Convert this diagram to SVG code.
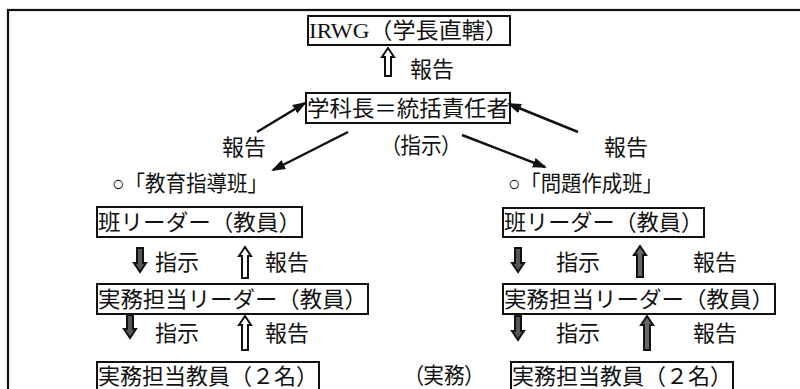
<svg xmlns="http://www.w3.org/2000/svg" width="800" height="389" viewBox="0 0 800 389">
<style>
.t{font-family:"Liberation Serif","Noto Sans CJK JP",serif;font-size:22px;fill:#111}
.p{font-feature-settings:"palt"}
.box{fill:#fff;stroke:#111;stroke-width:2}
.frame{fill:none;stroke:#111;stroke-width:2.2}
.ln{stroke:#111;stroke-width:2.5;fill:none;marker-end:url(#ah)}
.ba{stroke:#111;stroke-width:2;stroke-linejoin:miter}
.up{fill:#fff}
.dn{fill:#555}
.dk{fill:#666}
</style>
<defs>
<marker id="ah" viewBox="0 0 14 10" refX="12" refY="5" markerWidth="14" markerHeight="10" markerUnits="userSpaceOnUse" orient="auto">
<path d="M0,0 L14,5 L0,10 Z" fill="#111"/>
</marker>
</defs>
<rect class="frame" x="8" y="10" width="900" height="500"/>

<g id="irwg">
<rect class="box" x="308" y="16" width="202" height="29"/>
<text class="t" x="309" y="38" textLength="199" lengthAdjust="spacingAndGlyphs">IRWG（学長直轄）</text>
</g>
<g id="head">
<rect class="box" x="306" y="93" width="204" height="30"/>
<text class="t" x="307" y="116" textLength="202" lengthAdjust="spacingAndGlyphs">学科長＝統括責任者</text>
</g>

<g id="connectors">
<path class="ba up" d="M388,48 L394,57 L391,57 L391,76 L385,76 L385,57 L382,57 Z"/>
<line class="ln" x1="257" y1="132" x2="305" y2="103"/>
<line class="ln" x1="348" y1="132" x2="273" y2="170"/>
<line class="ln" x1="578" y1="132" x2="509" y2="104"/>
<line class="ln" x1="462" y1="135" x2="545" y2="167"/>
<path class="ba dn" d="M140,272 L146,263 L143,263 L143,248 L137,248 L137,263 L134,263 Z"/>
<path class="ba up" d="M245,247 L251,256 L248,256 L248,278 L242,278 L242,256 L239,256 Z"/>
<path class="ba dn" d="M130,338 L136,329 L133,329 L133,315 L127,315 L127,329 L124,329 Z"/>
<path class="ba up" d="M245,316 L251,325 L248,325 L248,350 L242,350 L242,325 L239,325 Z"/>
<path class="ba dn" d="M518,272 L524,263 L521,263 L521,248 L515,248 L515,263 L512,263 Z"/>
<path class="ba dk" d="M640,246 L646,255 L643,255 L643,277 L637,277 L637,255 L634,255 Z"/>
<path class="ba dn" d="M518,340 L524,331 L521,331 L521,316 L515,316 L515,331 L512,331 Z"/>
<path class="ba dk" d="M647,316 L653,325 L650,325 L650,350 L644,350 L644,325 L641,325 Z"/>
</g>

<g id="labels">
<text class="t" x="410" y="77">報告</text>
<text class="t" x="222" y="155">報告</text>
<text class="t p" x="390" y="153" textLength="62" lengthAdjust="spacingAndGlyphs">（指示）</text>
<text class="t" x="604" y="155">報告</text>
<text class="t" x="155" y="270">指示</text>
<text class="t" x="265" y="270">報告</text>
<text class="t" x="155" y="341">指示</text>
<text class="t" x="265" y="341">報告</text>
<text class="t" x="556" y="270">指示</text>
<text class="t" x="693" y="270">報告</text>
<text class="t" x="556" y="341">指示</text>
<text class="t" x="693" y="341">報告</text>
<text class="t p" x="413" y="383" textLength="62" lengthAdjust="spacingAndGlyphs">（実務）</text>
</g>

<g id="team-edu">
<text class="t" x="112" y="191" textLength="156" lengthAdjust="spacingAndGlyphs">○「教育指導班」</text>
</g>
<g id="team-prob">
<text class="t" x="508" y="191" textLength="155" lengthAdjust="spacingAndGlyphs">○「問題作成班」</text>
</g>

<g id="l-leader">
<rect class="box" x="97" y="207" width="205" height="30"/>
<text class="t" x="98" y="230" textLength="203" lengthAdjust="spacingAndGlyphs">班リーダー（教員）</text>
</g>
<g id="l-practical-leader">
<rect class="box" x="97" y="284" width="271" height="30"/>
<text class="t" x="98" y="307" textLength="269" lengthAdjust="spacingAndGlyphs">実務担当リーダー（教員）</text>
</g>
<g id="l-staff">
<rect class="box" x="97" y="362" width="222" height="40"/>
<text class="t" x="98" y="384" textLength="220" lengthAdjust="spacingAndGlyphs">実務担当教員（２名）</text>
</g>

<g id="r-leader">
<rect class="box" x="503" y="208" width="201" height="29"/>
<text class="t" x="504" y="230" textLength="199" lengthAdjust="spacingAndGlyphs">班リーダー（教員）</text>
</g>
<g id="r-practical-leader">
<rect class="box" x="503" y="284" width="272" height="30"/>
<text class="t" x="504" y="307" textLength="270" lengthAdjust="spacingAndGlyphs">実務担当リーダー（教員）</text>
</g>
<g id="r-staff">
<rect class="box" x="511" y="362" width="222" height="40"/>
<text class="t" x="512" y="384" textLength="220" lengthAdjust="spacingAndGlyphs">実務担当教員（２名）</text>
</g>
</svg>
